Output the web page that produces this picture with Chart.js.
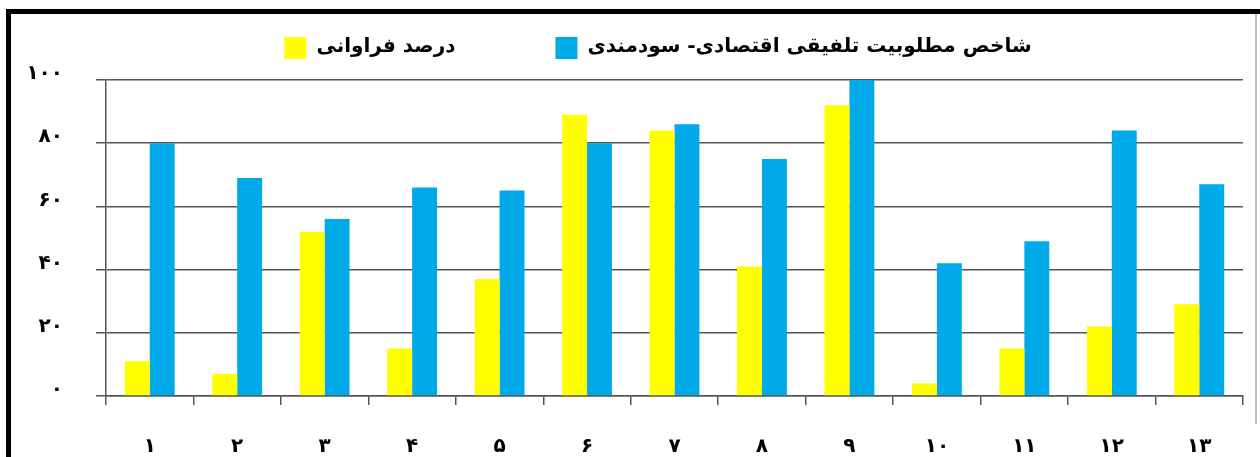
<!DOCTYPE html>
<html>
<head>
<meta charset="utf-8">
<script src="https://cdn.jsdelivr.net/npm/chart.js@4/dist/chart.umd.min.js"></script>
<style>
  html, body { margin: 0; padding: 0; background: #fff; }
  #wrap { width: 1260px; height: 457px; }
</style>
</head>
<body>
<div id="wrap"><canvas id="freq-chart"></canvas></div>
<script>
const categories = ["۱", "۲", "۳", "۴", "۵", "۶", "۷", "۸", "۹", "۱۰", "۱۱", "۱۲", "۱۳"];
const frequencyPercent = [11, 7, 52, 15, 37, 89, 84, 41, 92, 4, 15, 22, 29];
const suitabilityIndex = [80, 69, 56, 66, 65, 80, 86, 75, 100, 42, 49, 84, 67];
const yTicks = [0, 20, 40, 60, 80, 100];

const faDigits = "۰۱۲۳۴۵۶۷۸۹";
function toFa(n) {
  return String(n).replace(/\d/g, d => faDigits[d]);
}

const frame = {
  id: "frame",
  beforeDraw(chart) {
    const ctx = chart.ctx;
    ctx.save();
    ctx.fillStyle = "#fff";
    ctx.fillRect(0, 0, chart.width, chart.height);
    ctx.fillStyle = "#000";
    ctx.fillRect(6, 9, chart.width - 6, 5);
    ctx.fillRect(6, 9, 5, chart.height - 9);
    ctx.fillStyle = "#bbb";
    ctx.fillRect(1255, 14, 2, 410);
    ctx.restore();
  }
};

// legend drawn by hand: box on the left of each label, wide gap between items
const topLegend = {
  id: "topLegend",
  afterDraw(chart) {
    const ctx = chart.ctx;
    const sets = chart.data.datasets;
    const box = 22, gap = 10, itemGap = 100, centerX = 658, y = 48;
    ctx.save();
    ctx.font = "bold 20px 'DejaVu Sans', sans-serif";
    const widths = sets.map(ds => ctx.measureText(ds.label).width);
    let total = itemGap * (sets.length - 1);
    widths.forEach(w => { total += box + gap + w; });
    let x = centerX - total / 2;
    sets.forEach((ds, i) => {
      ctx.fillStyle = ds.backgroundColor;
      ctx.fillRect(x, y - box / 2, box, box);
      ctx.fillStyle = "#000";
      ctx.textAlign = "left";
      ctx.textBaseline = "middle";
      ctx.fillText(ds.label, x + box + gap, y - 1);
      x += box + gap + widths[i] + itemGap;
    });
    ctx.restore();
  }
};

Chart.defaults.font.family = "'DejaVu Sans', sans-serif";
Chart.defaults.color = "#000";

new Chart("freq-chart", {
  type: "bar",
  data: {
    labels: categories,
    datasets: [{
      label: "درصد فراوانی",
      data: frequencyPercent,
      backgroundColor: "#ffff00",
      categoryPercentage: 0.57,
      barPercentage: 1
    }, {
      label: "شاخص مطلوبیت تلفیقی اقتصادی- سودمندی",
      data: suitabilityIndex,
      backgroundColor: "#00aae8",
      categoryPercentage: 0.57,
      barPercentage: 1
    }]
  },
  options: {
    responsive: true,
    maintainAspectRatio: false,
    animation: false,
    layout: { padding: { top: 80, left: 0, right: 17, bottom: 0 } },
    plugins: {
      legend: { display: false },
      tooltip: { enabled: false }
    },
    scales: {
      x: {
        grid: {
          offset: true,
          drawOnChartArea: false,
          color: "#555",
          lineWidth: 1.5,
          tickLength: 9
        },
        border: { color: "#555", width: 1.5 },
        ticks: { padding: 30, font: { size: 20, weight: "bold" } },
        afterFit(scale) { scale.height = 61; }
      },
      y: {
        min: 0,
        max: 100,
        afterBuildTicks(scale) { scale.ticks = yTicks.map(v => ({ value: v })); },
        grid: { color: "#555", lineWidth: 1.5, tickLength: 10 },
        border: { color: "#555", width: 1.5 },
        ticks: {
          padding: 33,
          labelOffset: -6,
          font: { size: 20, weight: "bold" },
          callback: v => toFa(v)
        },
        afterFit(scale) { scale.width = 106; }
      }
    }
  },
  plugins: [frame, topLegend]
});
</script>
</body>
</html>
